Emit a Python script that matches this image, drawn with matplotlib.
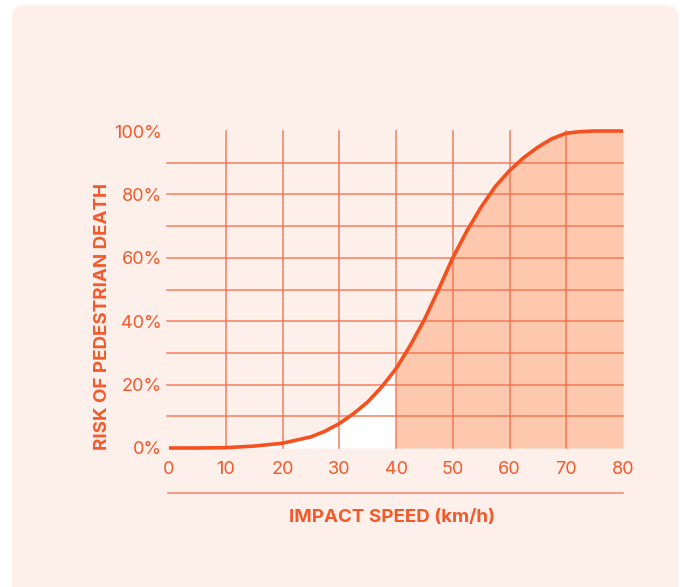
import matplotlib
matplotlib.use("Agg")
import matplotlib.pyplot as plt
from matplotlib.patches import FancyBboxPatch
from matplotlib.lines import Line2D
import numpy as np

plt.rcParams['font.family'] = ['Inter', 'DejaVu Sans']

# data
speed = [0, 5, 10, 15, 20, 25, 27.5, 30, 32.5, 35, 37.5, 40, 42.5, 45, 47.5, 50,
         52.5, 55, 57.5, 60, 62.5, 65, 67.5, 70, 72.5, 75, 80]
risk = [0, 0, 0.1, 0.6, 1.5, 3.5, 5.3, 7.7, 10.8, 14.5, 19.3, 25, 32.3, 40.5, 50, 60,
        68.5, 76, 82.5, 87.5, 91.6, 94.9, 97.6, 99.3, 99.8, 100, 100]
xticks = [0, 10, 20, 30, 40, 50, 60, 70, 80]
yticks = [0, 20, 40, 60, 80, 100]
ytick_labels = ['0%', '20%', '40%', '60%', '80%', '100%']

ORANGE = '#F4511E'
TEXT = '#F4592B'
GRID = '#F36A45'
FILL = '#FDC8AE'
PANEL = '#FDF0EB'

W, H = 689, 587
fig = plt.figure(figsize=(W / 100, H / 100), dpi=100)
fig.patch.set_facecolor('white')

panel = FancyBboxPatch((12 / W, -0.05), (678 - 12) / W, 1.05 - 5 / H,
                       boxstyle="round,pad=0,rounding_size=0.02",
                       transform=fig.transFigure, facecolor=PANEL,
                       edgecolor='none', zorder=-5)
fig.patches.append(panel)

ax = fig.add_axes([169 / W, 1 - 448 / H, (623 - 169) / W, (448 - 131) / H])
ax.set_zorder(1)
ax.patch.set_visible(False)
ax.set_xlim(0, 80)
ax.set_ylim(0, 100)
for s in ax.spines.values():
    s.set_visible(False)

x = np.array(speed)
y = np.array(risk)
ax.fill_between(x, 0, y, where=x <= 40, color='white', lw=0, zorder=1)
ax.fill_between(x, 0, y, where=x >= 40, color=FILL, lw=0, zorder=1)

for gx in range(10, 80, 10):
    ax.plot([gx, gx], [0, 100], color=GRID, lw=1.1, alpha=0.85, zorder=2,
            clip_on=False)
for gy in range(10, 100, 10):
    ax.plot([-0.3, 80], [gy, gy], color=GRID, lw=1.1, alpha=0.85, zorder=2,
            clip_on=False)

ax.plot(x, y, color=ORANGE, lw=2.6, zorder=3, clip_on=False,
        solid_capstyle='butt', solid_joinstyle='round')

ax.set_xticks(xticks)
ax.set_yticks(yticks)
ax.set_yticklabels(ytick_labels)
ax.tick_params(length=0, colors=TEXT, labelsize=13)
ax.tick_params(axis='x', pad=9)
ax.tick_params(axis='y', pad=5)

fig.add_artist(Line2D([168 / W, 623 / W], [1 - 493 / H, 1 - 493 / H],
                      color=GRID, lw=1.1, alpha=0.8))

fig.text(392 / W, 1 - 518 / H, 'IMPACT SPEED (km/h)', ha='center', va='center',
         color=TEXT, fontsize=13.5, fontweight='bold')
fig.text(103 / W, 1 - 316 / H, 'RISK OF PEDESTRIAN DEATH', ha='center',
         va='center', rotation=90, color=TEXT, fontsize=13.5, fontweight='bold')

fig.savefig('out.png', dpi=100, facecolor='white')
